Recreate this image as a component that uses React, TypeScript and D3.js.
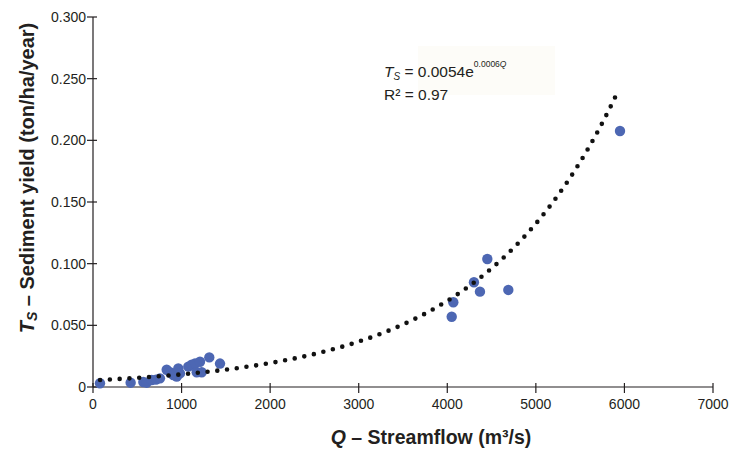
import React from "react";
import * as d3 from "d3";

const flowQ = [79, 425, 568, 606, 662, 711, 756, 832, 869, 907, 945, 963, 982, 1076, 1114, 1152, 1208, 1171, 1227, 1313, 1434, 4050, 4068, 4301, 4369, 4452, 4689, 5950];
const sedimentTs = [0.003, 0.0035, 0.004, 0.0035, 0.0057, 0.006, 0.007, 0.014, 0.012, 0.0097, 0.0084, 0.015, 0.011, 0.0165, 0.018, 0.019, 0.0205, 0.012, 0.012, 0.024, 0.019, 0.057, 0.0687, 0.0849, 0.0773, 0.1038, 0.0787, 0.2076];
const xTicks = [0, 1000, 2000, 3000, 4000, 5000, 6000, 7000];
const yTicks = [0, 0.05, 0.1, 0.15, 0.2, 0.25, 0.3];
const fitA = 0.0054;
const fitB = 0.00064;
const fitRange = [80, 5920];

export default function App() {
  const W = 735, H = 452;
  const m = { left: 93, right: 713, top: 17, bottom: 387 };
  const x = d3.scaleLinear().domain([0, 7000]).range([m.left, m.right]);
  const y = d3.scaleLinear().domain([0, 0.3]).range([m.bottom, m.top]);
  const fitPts = d3.range(fitRange[0], fitRange[1] + 1, 20).map((q) => [q, fitA * Math.exp(fitB * q)] as [number, number]);
  const line = d3.line<[number, number]>().x((d) => x(d[0])).y((d) => y(d[1]));
  const font = "'Liberation Sans', Arial, Helvetica, sans-serif";
  const ink = "#231f20";
  const yFmt = (v: number) => (v === 0 ? "0" : d3.format(".3f")(v));
  return (
    <svg width={W} height={H} style={{ position: "absolute", left: 0, top: 0, background: "#fff" }} fontFamily={font}>
      <rect x={0} y={0} width={W} height={H} fill="#fff" />
      <rect x={418} y={46} width={137} height={49} fill="#fdfcf8" />
      {/* axes */}
      <line x1={m.left} x2={m.left} y1={m.top} y2={m.bottom} stroke={ink} strokeWidth={1.2} />
      <line x1={m.left} x2={m.right} y1={m.bottom} y2={m.bottom} stroke={ink} strokeWidth={1.2} />
      {yTicks.map((t) => (
        <g key={"y" + t}>
          <line x1={m.left - 6} x2={m.left + 4} y1={y(t)} y2={y(t)} stroke={ink} strokeWidth={1.2} />
          <text x={m.left - 7} y={y(t) + 5} textAnchor="end" fontSize={14} fill={ink}>{yFmt(t)}</text>
        </g>
      ))}
      {xTicks.map((t) => (
        <g key={"x" + t}>
          <line x1={x(t)} x2={x(t)} y1={m.bottom - 4} y2={m.bottom + 6} stroke={ink} strokeWidth={1.2} />
          <text x={x(t)} y={409} textAnchor="middle" fontSize={14} fill={ink}>{t}</text>
        </g>
      ))}
      {/* points */}
      {flowQ.map((q, i) => (
        <circle key={i} cx={x(q)} cy={y(sedimentTs[i])} r={5.2} fill="#4d67b3" />
      ))}
      {/* trendline */}
      <path d={line(fitPts) || ""} fill="none" stroke="#111" strokeWidth={4.6} strokeLinecap="round" strokeDasharray="0 9.8" />
      {/* equation */}
      <text x={384} y={77} fontSize={15.5} fill={ink}>
        <tspan fontStyle="italic">T</tspan>
        <tspan fontStyle="italic" fontSize={10} dy={3}>S</tspan>
        <tspan dy={-3}> = 0.0054e</tspan>
        <tspan fontSize={8.5} dy={-10}>0.0006</tspan>
        <tspan fontSize={8.5} fontStyle="italic">Q</tspan>
      </text>
      <text x={384} y={100} fontSize={15.5} fill={ink}>R² = 0.97</text>
      {/* axis titles */}
      <text x={431} y={444} textAnchor="middle" fontSize={19.5} fontWeight="bold" fill={ink}>
        <tspan fontStyle="italic">Q</tspan>
        <tspan> – Streamflow (m³/s)</tspan>
      </text>
      <text transform="translate(34,178) rotate(-90)" textAnchor="middle" fontSize={20} fontWeight="bold" fill={ink}>
        <tspan fontStyle="italic">T</tspan>
        <tspan fontStyle="italic" fontSize={14} dy={3}>S</tspan>
        <tspan dy={-3}> – Sediment yield (ton/ha/year)</tspan>
      </text>
    </svg>
  );
}
